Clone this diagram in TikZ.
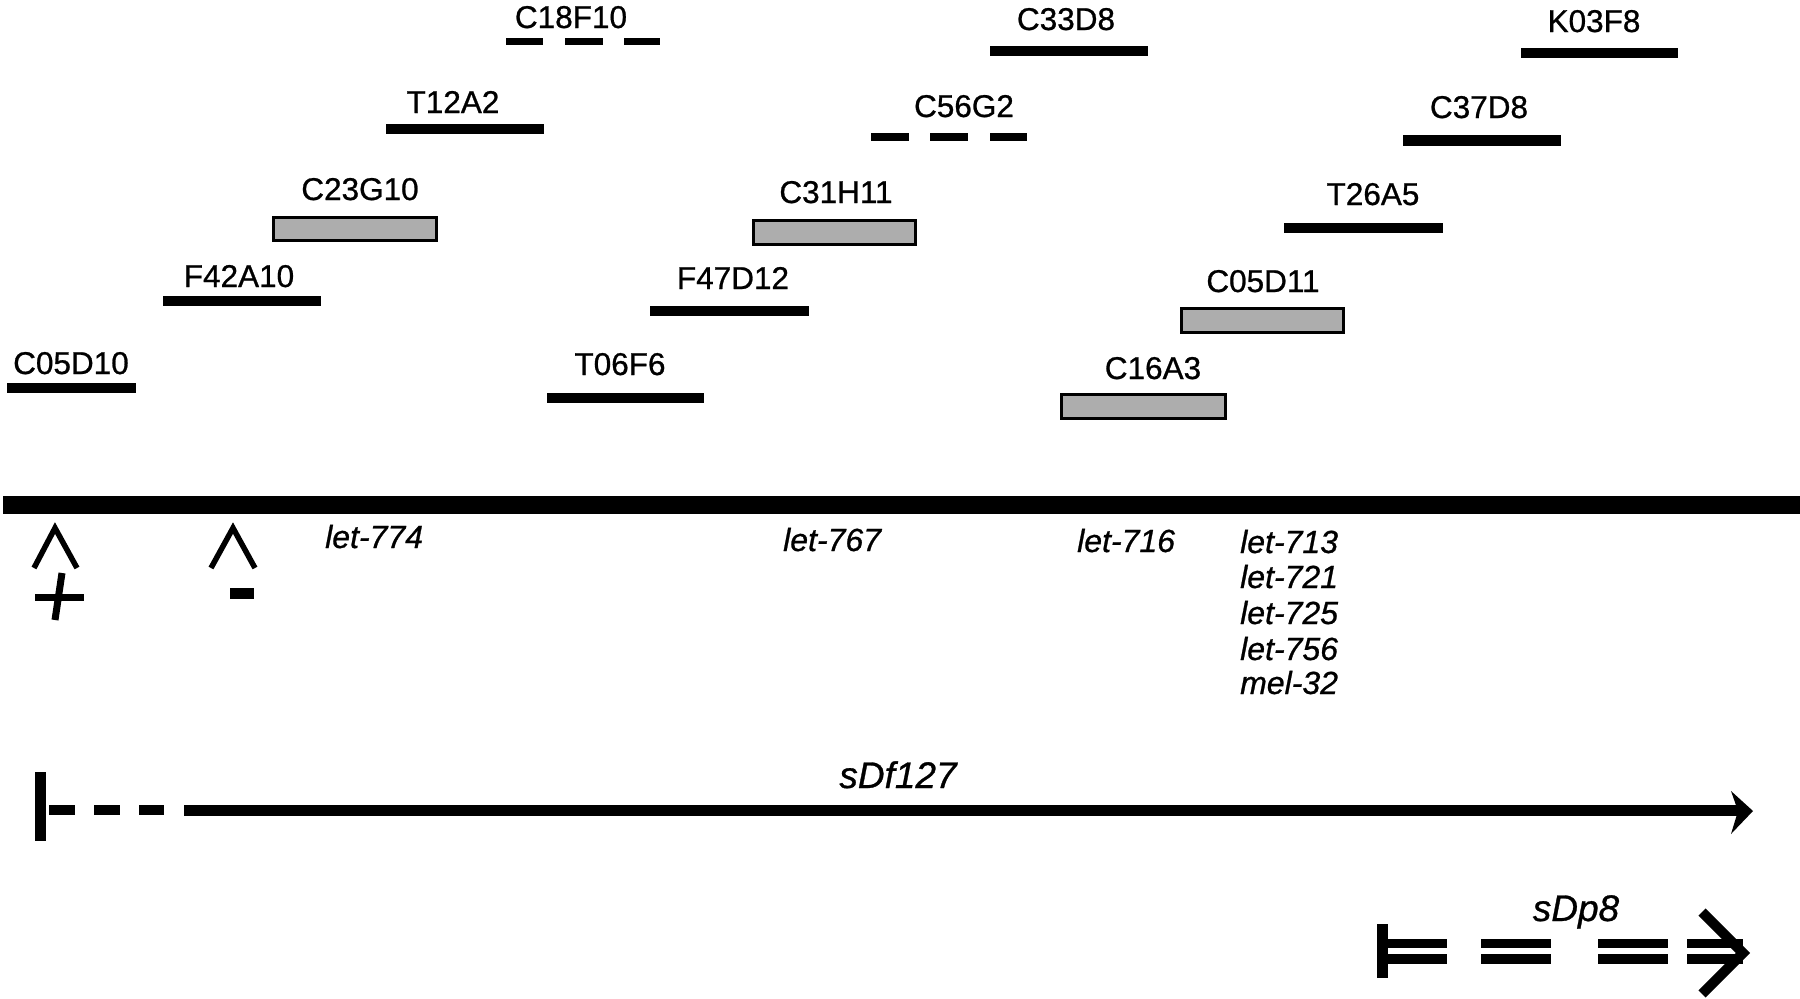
\documentclass[tikz,border=0pt]{standalone}
\usepackage{fontspec}
\setmainfont{Liberation Sans}
\newfontfamily\labfont{Liberation Sans}[FakeBold=0.8]
\begin{document}
\begin{tikzpicture}[x=1pt,y=-1pt,
  lab/.style={font=\labfont\fontsize{31.5}{36}\selectfont, inner sep=0pt, anchor=base},
  gene/.style={font=\labfont\itshape\fontsize{32}{36}\selectfont, inner sep=0pt, anchor=base west},
  big/.style={font=\labfont\itshape\fontsize{37}{42}\selectfont, inner sep=0pt, anchor=base},
  bar/.style={fill=black},
  cbox/.style={fill=black!32, draw=black, line width=3pt},
  caretline/.style={line width=5.5pt, line join=miter, line cap=butt},
]
\useasboundingbox (0,0) rectangle (1800,999);

% ---- clone row labels and bars ----
\node[lab] (lC18F10) at (571,28) {C18F10};
\fill[bar] (506,38) rectangle (543,45);
\fill[bar] (565,38) rectangle (603,45);
\fill[bar] (624,38) rectangle (660,45);

\node[lab] (lC33D8) at (1066,30) {C33D8};
\fill[bar] (990,46) rectangle (1148,56);

\node[lab] (lK03F8) at (1594,32) {K03F8};
\fill[bar] (1521,48) rectangle (1678,58);

\node[lab] (lT12A2) at (453,113) {T12A2};
\fill[bar] (386,124) rectangle (544,134);

\node[lab] (lC56G2) at (964,117) {C56G2};
\fill[bar] (871,133) rectangle (909,141);
\fill[bar] (930,133) rectangle (968,141);
\fill[bar] (990,133) rectangle (1027,141);

\node[lab] (lC37D8) at (1479,118) {C37D8};
\fill[bar] (1403,135) rectangle (1561,146);

\node[lab] (lC23G10) at (360,200) {C23G10};
\draw[cbox] (273,217) rectangle (436,240);

\node[lab] (lC31H11) at (836,203) {C31H11};
\draw[cbox] (753,220) rectangle (915,244);

\node[lab] (lT26A5) at (1373,205) {T26A5};
\fill[bar] (1284,223) rectangle (1443,233);

\node[lab] (lF42A10) at (239,287) {F42A10};
\fill[bar] (163,296) rectangle (321,306);

\node[lab] (lF47D12) at (733,289) {F47D12};
\fill[bar] (650,306) rectangle (809,316);

\node[lab] (lC05D11) at (1263,292) {C05D11};
\draw[cbox] (1181,308) rectangle (1343,332);

\node[lab] (lC05D10) at (71,374) {C05D10};
\fill[bar] (7,383) rectangle (136,393);

\node[lab] (lT06F6) at (620,375) {T06F6};
\fill[bar] (547,393) rectangle (704,403);

\node[lab] (lC16A3) at (1153,379) {C16A3};
\draw[cbox] (1061,394) rectangle (1225,418);

% ---- chromosome line ----
\fill[black] (3,496) rectangle (1800,514);

% ---- breakpoints ----
\draw[caretline] (34,568) -- (55,528) -- (77,568);
\draw[caretline] (211,568) -- (233,528) -- (255,568);
\draw[line width=7pt] (35,597) -- (84,597);
\draw[line width=7pt] (62,573) -- (55,620);
\fill (230,588) rectangle (254,599);

% ---- genes ----
\node[gene] (g774) at (325,548) {let-774};
\node[gene] (g767) at (783,551) {let-767};
\node[gene] (g716) at (1077,552) {let-716};
\node[gene] (g713) at (1240,553) {let-713};
\node[gene] (g721) at (1240,588) {let-721};
\node[gene] (g725) at (1240,624) {let-725};
\node[gene] (g756) at (1240,660) {let-756};
\node[gene] (m32)  at (1240,694) {mel-32};

% ---- sDf127 ----
\coordinate (dfA) at (49,810);
\coordinate (dfB) at (184,810);
\coordinate (dfE) at (1738,810);
\fill (35,772) rectangle (46,841);
\fill (49,805) rectangle (75,815);
\fill (94,805) rectangle (120,815);
\fill (139,805) rectangle (164,815);
\draw[line width=11pt] (dfB) -- (dfE);
\fill (1753,811) -- (1731,791) -- (1738,811) -- (1731,834) -- cycle;
\node[big] (sDf) at (898,788) {sDf127};

% ---- sDp8 ----
\node[big] (sDp) at (1576,921) {sDp8};
\fill (1377,924) rectangle (1388,978);
\foreach \a/\b in {1388/1447, 1481/1551, 1598/1668, 1687/1743}{
  \fill (\a,939) rectangle (\b,948);
  \fill (\a,954) rectangle (\b,964);
}
\coordinate (dpT) at (1743,953);
\draw[line width=10pt] (1702,912) -- (dpT) -- (1702,994);
\end{tikzpicture}
\end{document}
